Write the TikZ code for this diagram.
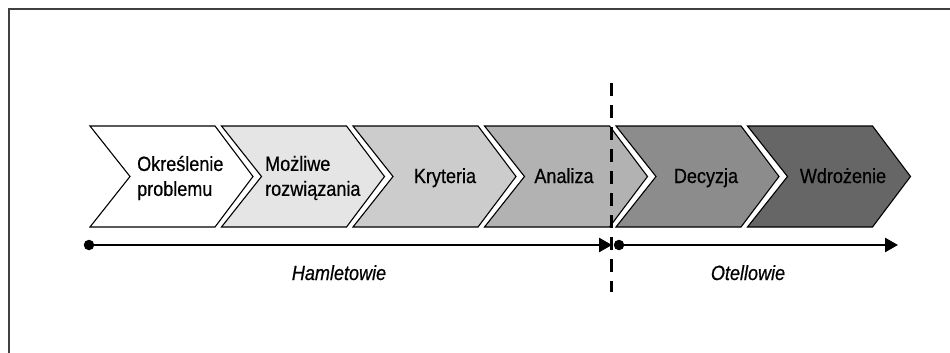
\documentclass[tikz,border=0pt]{standalone}
\usepackage{fontspec}
\setmainfont{Liberation Sans}[FakeStretch=0.88,FakeBold=0.6]
\usetikzlibrary{arrows.meta}
\definecolor{frame}{HTML}{404040}
\begin{document}
\begin{tikzpicture}[x=1pt,y=-1pt,
  chev/.style={draw=black,line width=1.1pt,line join=miter},
  lbl/.style={font=\fontsize{20.5}{25}\selectfont,inner sep=0pt,anchor=base},
  lbl2/.style={font=\fontsize{20.5}{25}\selectfont,inner sep=0pt,align=left,anchor=west},
  dot/.style={circle,fill=black,inner sep=0pt,minimum size=10.5pt},
  span/.style={line width=2.6pt,-{Triangle[length=13pt,width=14pt]}},
  grp/.style={font=\fontsize{20.5}{25}\selectfont\itshape,inner sep=0pt,anchor=base},
  divider/.style={line width=3pt,dash pattern=on 13pt off 9pt}]
\useasboundingbox (0,0) rectangle (950,353);
\fill[white] (0,0) rectangle (950,353);
% outer frame (top and left edges)
\draw[frame,line width=2.8pt] (9,353) -- (9,9) -- (950,9);

% chevron steps
\foreach \i/\col in {0/white,1/black!10,2/black!20,3/black!30,4/black!45,5/black!60}{
  \pgfmathsetmacro{\xa}{90+131.5*\i}
  \draw[chev,fill=\col] (\xa,126) -- ++(125,0) -- ++(38,50.5) -- ++(-38,50.5)
    -- ++(-125,0) -- ++(40,-50.5) -- cycle;
}

% step labels
\node[lbl2] (s1) at (137,178) {Określenie\\problemu};
\node[lbl2] (s2) at (265,178) {Możliwe\\rozwiązania};
\node[lbl] (s3) at (445,183) {Kryteria};
\node[lbl] (s4) at (564,183) {Analiza};
\node[lbl] (s5) at (706,183) {Decyzja};
\node[lbl] (s6) at (843,183) {Wdrożenie};

% divider
\coordinate (d0) at (611,83);
\coordinate (d1) at (611,292);
\draw[divider] (d0) -- (d1);

% timeline arrows
\node[dot] (h0) at (89,245) {};
\coordinate (h1) at (612,245);
\draw[span] (h0.center) -- (h1);
\node[dot] (o0) at (619,245) {};
\coordinate (o1) at (898,245);
\draw[span] (o0.center) -- (o1);

% group labels
\node[grp] (g1) at (339,280) {Hamletowie};
\node[grp] (g2) at (748,280) {Otellowie};
\end{tikzpicture}
\end{document}
